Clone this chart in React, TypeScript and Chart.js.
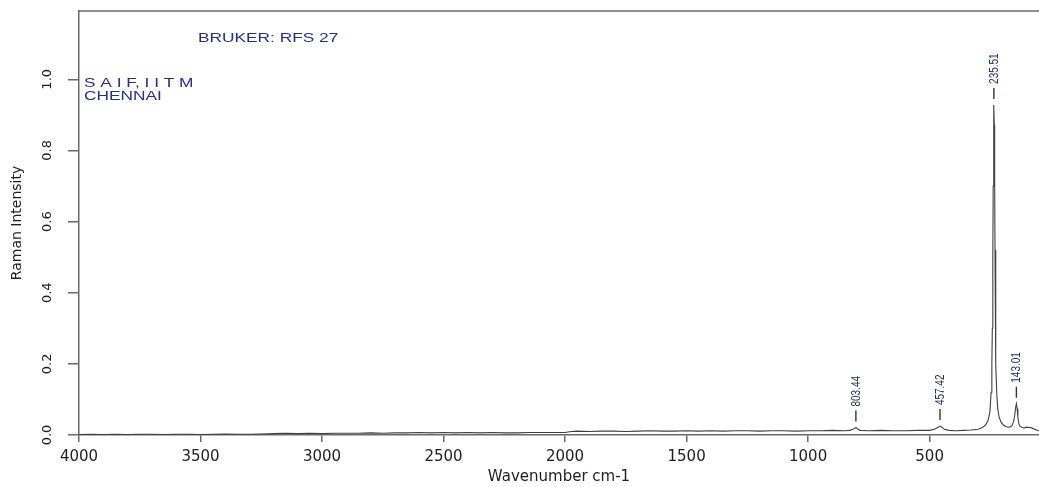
import React, { useEffect, useRef } from 'react';
import { Chart, registerables } from 'chart.js';

Chart.register(...registerables);

const wavenumbers = [
  4000, 3950, 3900, 3850, 3800, 3750, 3700, 3650, 3600, 3550, 3500, 3450, 3400, 3350, 3300, 3250,
  3200, 3150, 3100, 3050, 3000, 2950, 2900, 2850, 2800, 2750, 2700, 2650, 2600, 2550, 2500, 2450,
  2400, 2350, 2300, 2250, 2200, 2150, 2100, 2050, 2000, 1975, 1950, 1900, 1850, 1800, 1750, 1700,
  1650, 1600, 1550, 1500, 1450, 1400, 1350, 1300, 1250, 1200, 1150, 1100, 1050, 1000, 950, 900,
  850, 830, 815, 803, 795, 785, 750, 700, 650, 600, 550, 500, 480, 465, 457, 450, 440, 420, 390,
  360, 330, 300, 285, 270, 260, 252, 247, 244, 242, 240, 238.5, 237, 235.5, 234, 232.5, 231,
  229, 227, 224, 220, 214, 206, 196, 185, 172, 162, 155, 150, 146, 143, 140, 137, 133, 128, 120, 110,
  100, 90, 80, 70, 60, 50,
];

const intensities = [
  0.001, 0.002, 0.001, 0.002, 0.001, 0.002, 0.002, 0.001, 0.002, 0.002, 0.001, 0.002, 0.003, 0.002, 0.002, 0.003,
  0.004, 0.005, 0.004, 0.005, 0.004, 0.005, 0.005, 0.005, 0.006, 0.005, 0.006, 0.006, 0.007, 0.006, 0.007, 0.006,
  0.007, 0.006, 0.007, 0.006, 0.006, 0.007, 0.007, 0.007, 0.007, 0.010, 0.011, 0.010, 0.011, 0.011, 0.010, 0.011,
  0.012, 0.011, 0.011, 0.012, 0.011, 0.012, 0.011, 0.012, 0.012, 0.011, 0.012, 0.012, 0.011, 0.012, 0.012, 0.013,
  0.012, 0.013, 0.016, 0.021, 0.016, 0.013, 0.012, 0.013, 0.012, 0.012, 0.013, 0.013, 0.016, 0.022, 0.025, 0.022, 0.016, 0.013, 0.012,
  0.013, 0.014, 0.016, 0.02, 0.028, 0.04, 0.065, 0.12, 0.2, 0.3, 0.5, 0.7, 0.86, 0.928, 0.87, 0.72, 0.52,
  0.33, 0.2, 0.12, 0.075, 0.05, 0.036, 0.028, 0.023, 0.022, 0.026, 0.036, 0.055, 0.078, 0.088, 0.074, 0.05, 0.032, 0.024, 0.021, 0.02,
  0.022, 0.021, 0.02, 0.017, 0.014, 0.012,
];

const xTickValues = [4000, 3500, 3000, 2500, 2000, 1500, 1000, 500];
const yTickValues = [0, 0.2, 0.4, 0.6, 0.8, 1.0];

const peakWavenumbers = [803.44, 457.42, 235.51, 143.01];
const peakIntensities = [0.021, 0.025, 0.928, 0.088];
const peakLabels = ['803.44', '457.42', '235.51', '143.01'];

const instrumentText = 'BRUKER: RFS 27';
const labLines = ['S A I F, I I T M', 'CHENNAI'];

const AXIS_COLOR = '#6a6a6a';
const TEXT_COLOR = '#1e1e1e';
const NOTE_COLOR = '#2c2c8c';
const PEAK_TEXT_COLOR = '#1f2a5c';

const overlayPlugin = {
  id: 'overlay',
  afterDatasetsDraw(chart: any) {
    const { ctx, chartArea, scales } = chart;
    ctx.save();
    // top frame line
    ctx.strokeStyle = AXIS_COLOR;
    ctx.lineWidth = 1.5;
    ctx.beginPath();
    ctx.moveTo(chartArea.left, chartArea.top);
    ctx.lineTo(chartArea.right, chartArea.top);
    ctx.stroke();

    // peak markers
    for (let i = 0; i < peakWavenumbers.length; i++) {
      const px = scales.x.getPixelForValue(peakWavenumbers[i]);
      const py = scales.y.getPixelForValue(peakIntensities[i]);
      ctx.strokeStyle = '#333333';
      ctx.lineWidth = 1.4;
      ctx.beginPath();
      ctx.moveTo(px, py - 6);
      ctx.lineTo(px, py - 17);
      ctx.stroke();
      ctx.save();
      ctx.translate(px, py - 21);
      ctx.scale(1.35, 1);
      ctx.rotate(-Math.PI / 2);
      ctx.font = "10px 'Liberation Sans', Arial, sans-serif";
      ctx.fillStyle = PEAK_TEXT_COLOR;
      ctx.textAlign = 'left';
      ctx.textBaseline = 'middle';
      ctx.fillText(peakLabels[i], 0, 0);
      ctx.restore();
    }

    // annotations
    const drawStretched = (text: string, x: number, y: number) => {
      ctx.save();
      ctx.translate(x, y);
      ctx.scale(1.33, 1);
      ctx.font = "13px 'Liberation Sans', Arial, sans-serif";
      ctx.fillStyle = NOTE_COLOR;
      ctx.textAlign = 'left';
      ctx.textBaseline = 'alphabetic';
      ctx.fillText(text, 0, 0);
      ctx.restore();
    };
    drawStretched(instrumentText, chartArea.left + 119, chartArea.top + 31);
    drawStretched(labLines[0], chartArea.left + 5, chartArea.top + 76);
    drawStretched(labLines[1], chartArea.left + 5, chartArea.top + 89);
    ctx.restore();
  },
};

export default function App() {
  const canvasRef = useRef<HTMLCanvasElement | null>(null);

  useEffect(() => {
    if (!canvasRef.current) return;
    const points = wavenumbers.map((x, i) => ({ x, y: intensities[i] }));
    const chart = new Chart(canvasRef.current, {
      type: 'line',
      data: {
        datasets: [
          {
            data: points,
            borderColor: '#404040',
            borderWidth: 1.1,
            pointRadius: 0,
            tension: 0,
            fill: false,
          },
        ],
      },
      options: {
        animation: false,
        responsive: false,
        maintainAspectRatio: false,
        layout: { padding: { top: 11, right: 0, left: 0, bottom: 0 } },
        plugins: {
          legend: { display: false },
          tooltip: { enabled: false },
        },
        scales: {
          x: {
            type: 'linear',
            reverse: true,
            min: 50,
            max: 4000,
            afterBuildTicks: (s: any) => {
              s.ticks = xTickValues.map((v) => ({ value: v }));
            },
            afterFit: (s: any) => {
              s.height = 52;
              s.paddingLeft = 0;
              s.paddingRight = 0;
            },
            grid: {
              drawOnChartArea: false,
              drawTicks: true,
              tickLength: 7,
              color: AXIS_COLOR,
              lineWidth: 1.5,
            },
            border: { display: true, color: AXIS_COLOR, width: 1.5 },
            ticks: {
              color: TEXT_COLOR,
              font: { family: "'DejaVu Sans', sans-serif", size: 15 },
              padding: 6,
              maxRotation: 0,
              minRotation: 0,
              autoSkip: false,
              callback: (v: any) => String(v),
            },
            title: {
              display: true,
              text: 'Wavenumber cm-1',
              color: TEXT_COLOR,
              font: { family: "'DejaVu Sans', sans-serif", size: 15 },
              padding: { top: 0, bottom: 1 },
            },
          },
          y: {
            type: 'linear',
            min: 0,
            max: 1.192,
            afterBuildTicks: (s: any) => {
              s.ticks = yTickValues.map((v) => ({ value: v }));
            },
            afterFit: (s: any) => {
              s.width = 79;
              s.paddingTop = 0;
              s.paddingBottom = 0;
            },
            grid: {
              drawOnChartArea: false,
              drawTicks: true,
              tickLength: 11,
              color: AXIS_COLOR,
              lineWidth: 1.5,
            },
            border: { display: true, color: AXIS_COLOR, width: 1.5 },
            ticks: {
              color: TEXT_COLOR,
              font: { family: "'DejaVu Sans', sans-serif", size: 13 },
              padding: 10,
              minRotation: 90,
              maxRotation: 90,
              crossAlign: 'center',
              autoSkip: false,
              callback: (v: any) => Number(v).toFixed(1),
            },
            title: {
              display: true,
              text: 'Raman Intensity',
              color: TEXT_COLOR,
              font: { family: "'DejaVu Sans', sans-serif", size: 14 },
              padding: { top: 9, bottom: 0 },
            },
          },
        },
      },
      plugins: [overlayPlugin],
    });
    return () => chart.destroy();
  }, []);

  return (
    <div style={{ position: 'fixed', left: 0, top: 0, width: 1039, height: 487, background: '#ffffff' }}>
      <canvas ref={canvasRef} width={1039} height={487} />
    </div>
  );
}
